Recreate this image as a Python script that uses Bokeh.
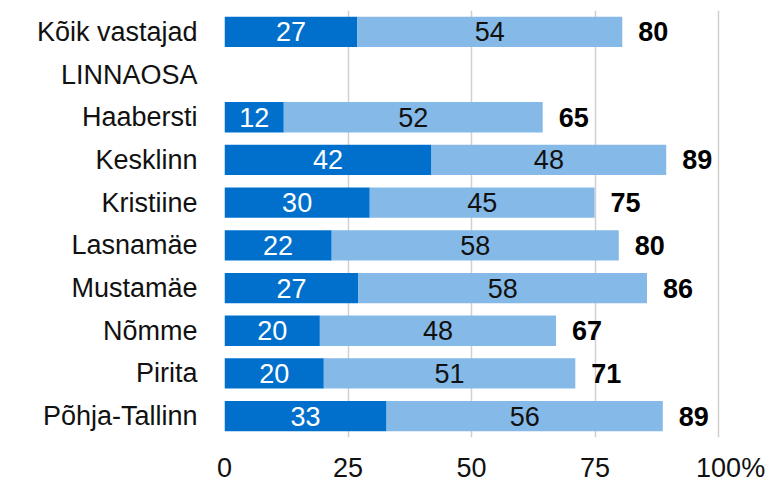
import numpy as np
from bokeh.plotting import figure
from bokeh.models import ColumnDataSource, Range1d, FixedTicker
from bokeh.core.properties import value
from bokeh.embed import file_html
from bokeh.resources import INLINE

categories = ["Kõik vastajad", "LINNAOSA", "Haabersti", "Kesklinn", "Kristiine",
              "Lasnamäe", "Mustamäe", "Nõmme", "Pirita", "Põhja-Tallinn"]
dark_values = [26.9, None, 12.0, 41.9, 29.4, 21.7, 27.1, 19.3, 20.1, 32.8]
light_values = [53.6, None, 52.4, 47.5, 45.5, 58.1, 58.4, 47.8, 50.9, 55.9]
dark_labels = ["27", "", "12", "42", "30", "22", "27", "20", "20", "33"]
light_labels = ["54", "", "52", "48", "45", "58", "58", "48", "51", "56"]
total_labels = ["80", "", "65", "89", "75", "80", "86", "67", "71", "89"]
x_ticks = [0, 25, 50, 75, 100]
x_tick_labels = ["0", "25", "50", "75", "100"]
unit_label = "%"

DARK = "#0070CC"
LIGHT = "#85B9E7"
FONT = "Liberation Sans"
FS = "27px"

n = len(categories)
ypos = [n - 1 - i for i in range(n)]
rows = [i for i in range(n) if dark_values[i] is not None]

src = ColumnDataSource(dict(
    y=[ypos[i] for i in rows],
    dark=[dark_values[i] for i in rows],
    light=[light_values[i] for i in rows],
    total=[dark_values[i] + light_values[i] for i in rows],
    dark_mid=[dark_values[i] / 2 for i in rows],
    light_mid=[dark_values[i] + light_values[i] / 2 for i in rows],
    dlab=[dark_labels[i] for i in rows],
    llab=[light_labels[i] for i in rows],
    tlab=[total_labels[i] for i in rows],
))

X_END = 110.3  # frame extends past 100 so the "%" sign can sit after "100"
p = figure(width=769, height=485, x_range=Range1d(0, X_END), y_range=Range1d(-0.5, n - 0.5),
           output_backend="svg", toolbar_location=None,
           min_border_left=224, min_border_right=0, min_border_top=10, min_border_bottom=45)
p.outline_line_color = None
p.background_fill_color = "white"
p.border_fill_color = "white"

p.hbar(y="y", left=0, right="dark", height=0.71, source=src, fill_color=DARK, line_color=None)
p.hbar(y="y", left="dark", right="total", height=0.71, source=src, fill_color=LIGHT, line_color=None)

p.text(x="dark_mid", y="y", text="dlab", source=src, text_align="center", text_baseline="middle",
       text_color="white", text_font=value(FONT), text_font_size=FS)
p.text(x="light_mid", y="y", text="llab", source=src, text_align="center", text_baseline="middle",
       text_color="#111111", text_font=value(FONT), text_font_size=FS)
p.text(x="total", y="y", text="tlab", source=src, text_align="left", text_baseline="middle",
       x_offset=16, text_color="#000000", text_font=value(FONT), text_font_size=FS,
       text_font_style="bold")

# grid
p.ygrid.grid_line_color = None
p.xgrid.ticker = FixedTicker(ticks=x_ticks)
p.xgrid.grid_line_color = "#D0D0D0"
p.xgrid.grid_line_width = 1.5

# x axis: tick labels plus a "%" sign placed right after "100"
pct_pos = x_ticks[-1] + 7.0
p.xaxis.ticker = FixedTicker(ticks=x_ticks + [pct_pos])
overrides = {t: l for t, l in zip(x_ticks, x_tick_labels)}
overrides[pct_pos] = unit_label
p.xaxis.major_label_overrides = overrides
p.xaxis.axis_line_color = None
p.xaxis.major_tick_line_color = None
p.xaxis.minor_tick_line_color = None
p.xaxis.major_tick_out = 0
p.xaxis.major_tick_in = 0
p.xaxis.major_label_standoff = 15
p.xaxis.major_label_text_font = FONT
p.xaxis.major_label_text_font_size = FS
p.xaxis.major_label_text_color = "#111111"

# y axis
p.yaxis.ticker = FixedTicker(ticks=ypos)
p.yaxis.major_label_overrides = {ypos[i]: categories[i] for i in range(n)}
p.yaxis.axis_line_color = None
p.yaxis.major_tick_line_color = None
p.yaxis.minor_tick_line_color = None
p.yaxis.major_tick_out = 0
p.yaxis.major_tick_in = 0
p.yaxis.major_label_standoff = 27
p.yaxis.major_label_text_font = FONT
p.yaxis.major_label_text_font_size = FS
p.yaxis.major_label_text_color = "#111111"

open("out.html", "w").write(file_html(p, INLINE))
